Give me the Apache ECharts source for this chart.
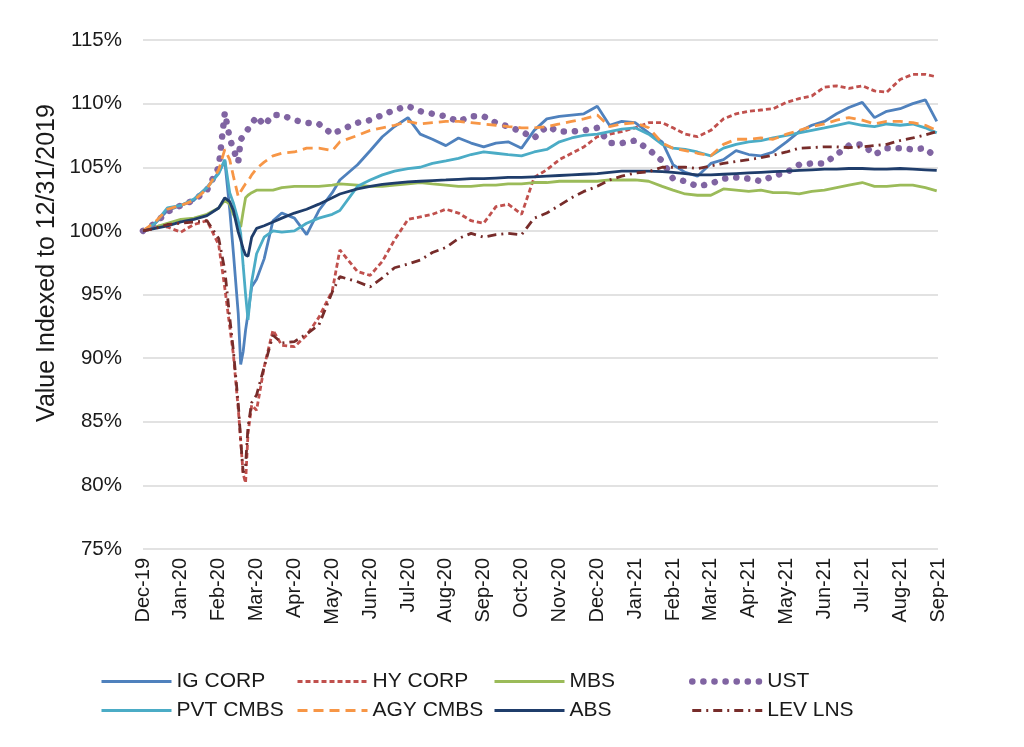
<!DOCTYPE html>
<html>
<head>
<meta charset="utf-8">
<script src="https://cdn.jsdelivr.net/npm/echarts@6/dist/echarts.min.js"></script>
<style>html,body{margin:0;padding:0;background:#fff}#c{width:1024px;height:747px}</style>
</head>
<body>
<div id="c"></div>
<script>
const dates = ['2019-12-31','2020-01-10','2020-01-20','2020-01-31','2020-02-10','2020-02-20','2020-02-29',
'2020-03-05','2020-03-09','2020-03-12','2020-03-16','2020-03-18','2020-03-20','2020-03-22','2020-03-24','2020-03-27','2020-03-31',
'2020-04-06','2020-04-13','2020-04-20','2020-04-30','2020-05-10','2020-05-20','2020-05-31','2020-06-06','2020-06-20','2020-06-30',
'2020-07-10','2020-07-20','2020-07-31','2020-08-10','2020-08-20','2020-08-31','2020-09-10','2020-09-20','2020-09-30',
'2020-10-10','2020-10-20','2020-10-31','2020-11-10','2020-11-20','2020-11-30','2020-12-10','2020-12-20','2020-12-31',
'2021-01-10','2021-01-20','2021-01-31','2021-02-10','2021-02-20','2021-02-28','2021-03-10','2021-03-20','2021-03-31',
'2021-04-10','2021-04-20','2021-04-30','2021-05-10','2021-05-20','2021-05-31','2021-06-10','2021-06-20','2021-06-30',
'2021-07-10','2021-07-20','2021-07-31','2021-08-10','2021-08-20','2021-08-31','2021-09-10','2021-09-20','2021-09-29'];

const tickLabels = ['Dec-19','Jan-20','Feb-20','Mar-20','Apr-20','May-20','Jun-20','Jul-20','Aug-20','Sep-20','Oct-20','Nov-20',
'Dec-20','Jan-21','Feb-21','Mar-21','Apr-21','May-21','Jun-21','Jul-21','Aug-21','Sep-21'];

const yAxisTitle = 'Value Indexed to 12/31/2019';

const igCorp = [100,100.6,101.6,102.0,102.4,103.4,104.6,105.5,101.7,98.3,93.5,89.5,90.5,92.2,93.5,95.6,96.2,97.8,100.8,101.4,101.0,
99.7,101.6,103.0,104.0,105.2,106.3,107.4,108.2,108.9,107.6,107.2,106.7,107.3,106.9,106.6,106.9,107.0,106.5,107.9,108.8,109.0,109.1,109.2,109.8,
108.3,108.6,108.5,107.7,107.0,105.2,104.6,104.3,105.3,105.6,106.3,106.0,105.9,106.2,107.0,107.8,108.3,108.6,109.2,109.7,110.1,108.9,109.4,109.6,110.0,110.3,108.6];

const hyCorp = [100,100.4,100.3,99.9,100.5,100.8,98.9,95.5,92.5,90.3,86.0,83.5,80.9,80.2,84.1,86.3,85.9,89.3,92.2,91.0,90.9,
91.8,93.2,95.3,98.5,96.8,96.5,97.6,99.3,100.9,101.1,101.3,101.7,101.4,100.8,100.6,101.9,102.1,101.3,104.2,104.8,105.6,106.1,106.6,107.4,
107.6,107.8,108.1,108.5,108.5,108.1,107.6,107.4,107.9,108.8,109.2,109.4,109.5,109.6,110.1,110.4,110.6,111.3,111.4,111.2,111.4,111.0,110.9,111.9,112.3,112.3,112.1];

const mbs = [100,100.3,100.6,100.9,101.0,101.3,101.8,102.4,102.1,101.3,100.6,100.3,101.5,102.6,102.8,103.0,103.2,103.2,103.2,103.4,103.5,
103.5,103.5,103.6,103.7,103.6,103.5,103.5,103.6,103.7,103.8,103.7,103.6,103.5,103.5,103.6,103.6,103.7,103.7,103.8,103.8,103.9,103.9,103.9,103.9,
104.0,104.0,104.0,103.9,103.5,103.2,102.9,102.8,102.8,103.3,103.2,103.1,103.2,103.0,103.0,102.9,103.1,103.2,103.4,103.6,103.8,103.5,103.5,103.6,103.6,103.4,103.15];

const ust = [100,100.6,101.5,102.0,102.4,103.2,105.0,109.3,107.3,106.4,105.4,107.2,107.4,107.7,108.0,108.4,109.0,108.3,109.1,109.1,108.7,
108.5,108.4,107.6,107.9,108.5,108.7,109.1,109.5,109.8,109.4,109.2,109.0,108.6,109.0,109.0,108.5,108.2,107.8,107.3,108.2,107.8,107.8,107.9,108.1,
106.9,106.9,107.1,106.4,105.5,104.1,103.9,103.5,103.7,104.1,104.2,104.1,103.9,104.3,104.6,105.2,105.3,105.3,106.0,106.7,106.8,106.0,106.5,106.5,106.4,106.5,105.7];

const pvtCmbs = [100,100.6,101.8,102.0,102.5,103.4,104.5,105.6,103.0,102.2,100.8,99.8,97.3,95.0,93.0,96.0,98.2,99.5,100.0,99.9,100.0,
100.6,101.0,101.3,101.6,103.5,104.0,104.4,104.7,104.9,105.0,105.3,105.5,105.7,106.0,106.2,106.1,106.0,105.9,106.2,106.4,107.0,107.3,107.5,107.6,
107.8,108.0,108.1,107.6,106.8,106.5,106.4,106.2,105.9,106.5,106.8,107.0,107.1,107.3,107.5,107.7,107.9,108.1,108.3,108.5,108.3,108.2,108.4,108.3,108.4,108.1,107.7];

const agyCmbs = [100,100.7,101.7,102.0,102.4,103.3,104.8,106.4,105.6,104.3,102.7,103.1,103.4,103.7,103.9,104.4,104.9,105.4,105.9,106.1,106.2,
106.5,106.5,106.3,107.0,107.5,107.9,108.1,108.3,108.6,108.4,108.5,108.6,108.6,108.5,108.4,108.3,108.2,108.1,108.1,108.2,108.4,108.6,108.8,109.1,
108.2,108.4,108.5,108.1,106.9,106.5,106.3,106.1,105.9,106.8,107.2,107.2,107.3,107.2,107.6,107.9,108.2,108.4,108.7,108.9,108.7,108.4,108.6,108.6,108.5,108.3,107.9];

const abs = [100,100.2,100.4,100.7,100.9,101.2,101.8,102.6,102.3,101.6,99.9,99.3,98.6,98.1,98.0,99.5,100.2,100.4,100.7,101.0,101.4,
101.7,102.1,102.6,102.9,103.3,103.5,103.65,103.75,103.85,103.9,103.95,104.0,104.05,104.1,104.1,104.15,104.2,104.2,104.25,104.3,104.35,104.4,104.45,104.5,
104.6,104.7,104.7,104.7,104.65,104.6,104.5,104.4,104.4,104.45,104.5,104.55,104.6,104.65,104.7,104.75,104.8,104.85,104.85,104.9,104.9,104.85,104.85,104.9,104.85,104.8,104.75];

const levLns = [100,100.2,100.5,100.6,100.7,100.8,99.4,96.9,93.2,90.6,86.4,83.6,81.0,81.6,84.6,86.5,87.1,89.3,91.8,91.2,91.3,
91.9,92.6,95.2,96.4,96.0,95.6,96.3,97.1,97.4,97.7,98.3,98.7,99.4,99.8,99.5,99.7,99.8,99.7,101.0,101.4,102.0,102.6,103.1,103.5,
104.0,104.3,104.55,104.65,105.0,105.0,105.0,104.9,105.1,105.3,105.45,105.6,105.75,105.95,106.2,106.5,106.55,106.6,106.6,106.55,106.6,106.7,106.8,107.1,107.3,107.55,107.8];

function dateToX(s) {
  const [y, m, d] = s.split('-').map(Number);
  const dim = new Date(y, m, 0).getDate();
  return (y - 2020) * 12 + (m - 1) + d / dim;
}
const xs = dates.map(dateToX);
const pairs = arr => arr.map((v, i) => [xs[i], v]);

const FONT = 'Liberation Sans, Arial, sans-serif';
const TXT = '#1a1a1a';

const defs = [
  {name: 'IG CORP', data: igCorp, color: '#4f81bd', type: 'solid', width: 2.8},
  {name: 'HY CORP', data: hyCorp, color: '#c0504d', type: [5, 3], width: 2.8},
  {name: 'MBS', data: mbs, color: '#9bbb59', type: 'solid', width: 2.8},
  {name: 'UST', data: ust, color: '#8064a2', type: [0.1, 11], width: 6.5, cap: 'round'},
  {name: 'PVT CMBS', data: pvtCmbs, color: '#4bacc6', type: 'solid', width: 2.8},
  {name: 'AGY CMBS', data: agyCmbs, color: '#f79646', type: [10, 6], width: 2.8},
  {name: 'ABS', data: abs, color: '#1f3d6b', type: 'solid', width: 2.8},
  {name: 'LEV LNS', data: levLns, color: '#772c2a', type: [9, 5, 2, 5], width: 2.8}
];

const series = defs.map(d => ({
  name: d.name, type: 'line', data: pairs(d.data), symbol: 'none', smooth: false,
  color: d.color,
  lineStyle: {color: d.color, width: d.width, type: d.type, cap: d.cap || 'butt'},
  animation: false
}));

const legendItem = d => ({
  name: d.name,
  lineStyle: {color: d.color, width: d.cap ? 6.5 : 3, type: d.type, cap: d.cap || 'butt'}
});

const colLeft = [95, 291, 488, 684];
const legends = colLeft.map((left, c) => ({
  orient: 'vertical', left: left, top: 666, itemWidth: 70, itemHeight: 16, itemGap: 8,
  data: [legendItem(defs[c]), legendItem(defs[c + 4])],
  textStyle: {fontFamily: FONT, fontSize: 21, color: TXT},
  itemStyle: {opacity: 0}
}));

const chart = echarts.init(document.getElementById('c'));
chart.setOption({
  backgroundColor: '#ffffff',
  animation: false,
  legend: legends,
  grid: {left: 143, right: 86, top: 40, bottom: 198},
  graphic: [{
    type: 'text', x: 47, y: 263, rotation: Math.PI / 2,
    style: {text: yAxisTitle, fontFamily: FONT, fontSize: 25, fill: TXT, align: 'center', verticalAlign: 'middle'}
  }],
  xAxis: {
    type: 'value', min: 0, max: 21, interval: 1,
    axisLine: {show: false}, axisTick: {show: false}, splitLine: {show: false},
    axisLabel: {
      rotate: 90, margin: 9, fontFamily: FONT, fontSize: 20, color: TXT,
      formatter: v => tickLabels[Math.round(v)] || ''
    }
  },
  yAxis: {
    type: 'value', min: 75, max: 115, interval: 5,
    axisLine: {show: false}, axisTick: {show: false},
    splitLine: {lineStyle: {color: '#d9d9d9', width: 1.5}},
    axisLabel: {margin: 21, fontFamily: FONT, fontSize: 20.5, color: TXT, formatter: v => v + '%'}
  },
  series: series
});
</script>
</body>
</html>
